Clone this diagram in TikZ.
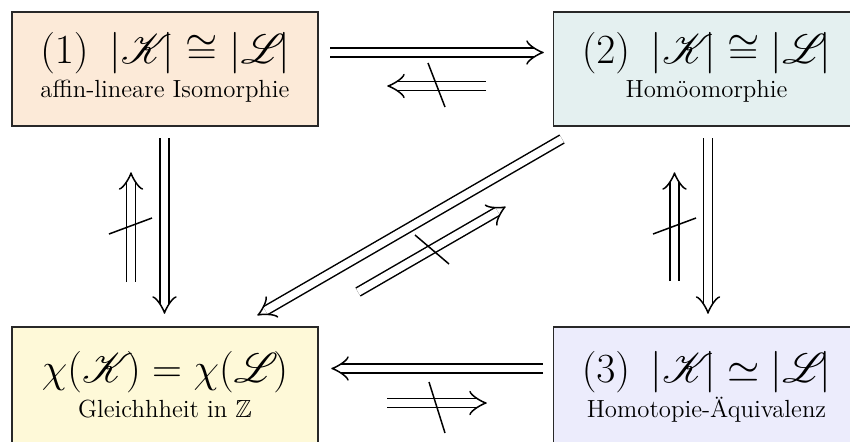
\documentclass[tikz,border=0pt]{standalone}
\usepackage{amssymb}
\usepackage{mathrsfs}
\usetikzlibrary{calc}
\definecolor{cA}{RGB}{252,234,216}
\definecolor{cB}{RGB}{228,240,240}
\definecolor{cC}{RGB}{236,236,252}
\definecolor{cD}{RGB}{254,249,216}
\definecolor{boxline}{RGB}{40,40,40}
\newcommand{\sK}{\mathscr{K}\mkern-4mu}
\newcommand{\sL}{\mathscr{L}\mkern-3mu}
\newcommand{\dblarr}[2]{%
  \draw[dshaft] (#1) -- ($(#2)!4.3pt!(#1)$);
  \pgfmathanglebetweenpoints{\pgfpointanchor{#2}{center}}{\pgfpointanchor{#1}{center}}%
  \let\arrang\pgfmathresult
  \draw[dhook, shift={(#2)}, rotate=\arrang]
    (8pt,5.75pt) .. controls (7.47pt,3.59pt) and (1.6pt,0.36pt) .. (0pt,0pt)
    .. controls (1.6pt,-0.36pt) and (7.47pt,-3.59pt) .. (8pt,-5.75pt);}
\begin{document}
\begin{tikzpicture}[x=0.5pt,y=-0.5pt,
  box/.style={draw=boxline, line width=0.75pt, minimum width=153pt, inner sep=0pt},
  wbox/.style={box, minimum width=157pt},
  dshaft/.style={double, line width=0.75pt, double distance=3.75pt},
  dhook/.style={line width=0.75pt, line cap=round, line join=round},
  slash/.style={line width=0.75pt},
  frm/.style={anchor=base, inner sep=0pt, font=\fontsize{20.74}{25}\selectfont},
  sub/.style={anchor=base, inner sep=0pt, font=\fontsize{12.4}{14}\selectfont}]
\useasboundingbox (0,0) rectangle (850,441);
% boxes
\node[box, fill=cA, minimum height=57pt] (b1) at (165,69) {};
\node[wbox, fill=cB, minimum height=57pt] (b2) at (710.5,69) {};
\node[box, fill=cD, minimum height=61.5pt] (b4) at (165,388.5) {};
\node[wbox, fill=cC, minimum height=61.5pt] (b3) at (710.5,388.5) {};
% texts
\node[frm] (f1) at ([yshift=3pt]b1.center) {$(1)\enspace|\sK|\cong|\sL|$};
\node[sub] (s1) at ([yshift=-14pt]b1.center) {affin-lineare Isomorphie};
\node[frm] (f2) at ([xshift=-2pt,yshift=3pt]b2.center) {$(2)\enspace|\sK|\cong|\sL|$};
\node[sub] (s2) at ([xshift=-2pt,yshift=-14pt]b2.center) {Homöomorphie};
\node[frm] (f4) at ([yshift=3.25pt]b4.center) {$\chi(\mathscr{K}\mkern-3mu)=\chi(\mathscr{L}\mkern-2mu)$};
\node[sub] (s4) at ([yshift=-14.25pt]b4.center) {Gleichhheit in $\mathbb{Z}$};
\node[frm] (f3) at ([xshift=-2pt,yshift=3.25pt]b3.center) {$(3)\enspace|\sK|\simeq|\sL|$};
\node[sub] (s3) at ([xshift=-2pt,yshift=-14.25pt]b3.center) {Homotopie-Äquivalenz};
% arrow end points
\coordinate (ta1) at (330,52.5);   \coordinate (ta2) at (543,52.5);
\coordinate (tb1) at (486,86);     \coordinate (tb2) at (388,86);
\coordinate (ba1) at (543,368.5);  \coordinate (ba2) at (332,368.5);
\coordinate (bb1) at (387,403);    \coordinate (bb2) at (486,403);
\coordinate (la1) at (164.5,138);  \coordinate (la2) at (164.5,313);
\coordinate (lb1) at (131,282);    \coordinate (lb2) at (131,173);
\coordinate (ra1) at (708,138);    \coordinate (ra2) at (708,313);
\coordinate (rb1) at (674.5,281);  \coordinate (rb2) at (674.5,173);
\coordinate (da1) at (562,139);    \coordinate (da2) at (258,315);
\coordinate (db1) at (358,292);    \coordinate (db2) at (505,207);
% slash ends
\coordinate (st1) at (428,63);  \coordinate (st2) at (445,107);
\coordinate (sb1) at (429,382); \coordinate (sb2) at (445,433);
\coordinate (sl1) at (109,234); \coordinate (sl2) at (152,218);
\coordinate (sr1) at (653,234); \coordinate (sr2) at (696,218);
\coordinate (sd1) at (415,235); \coordinate (sd2) at (449,264);
% arrows
\dblarr{ta1}{ta2}
\dblarr{tb1}{tb2}
\dblarr{ba1}{ba2}
\dblarr{bb1}{bb2}
\dblarr{la1}{la2}
\dblarr{lb1}{lb2}
\dblarr{ra1}{ra2}
\dblarr{rb1}{rb2}
\dblarr{da1}{da2}
\dblarr{db1}{db2}
% slashes
\draw[slash] (st1) -- (st2);
\draw[slash] (sb1) -- (sb2);
\draw[slash] (sl1) -- (sl2);
\draw[slash] (sr1) -- (sr2);
\draw[slash] (sd1) -- (sd2);
\end{tikzpicture}
\end{document}
